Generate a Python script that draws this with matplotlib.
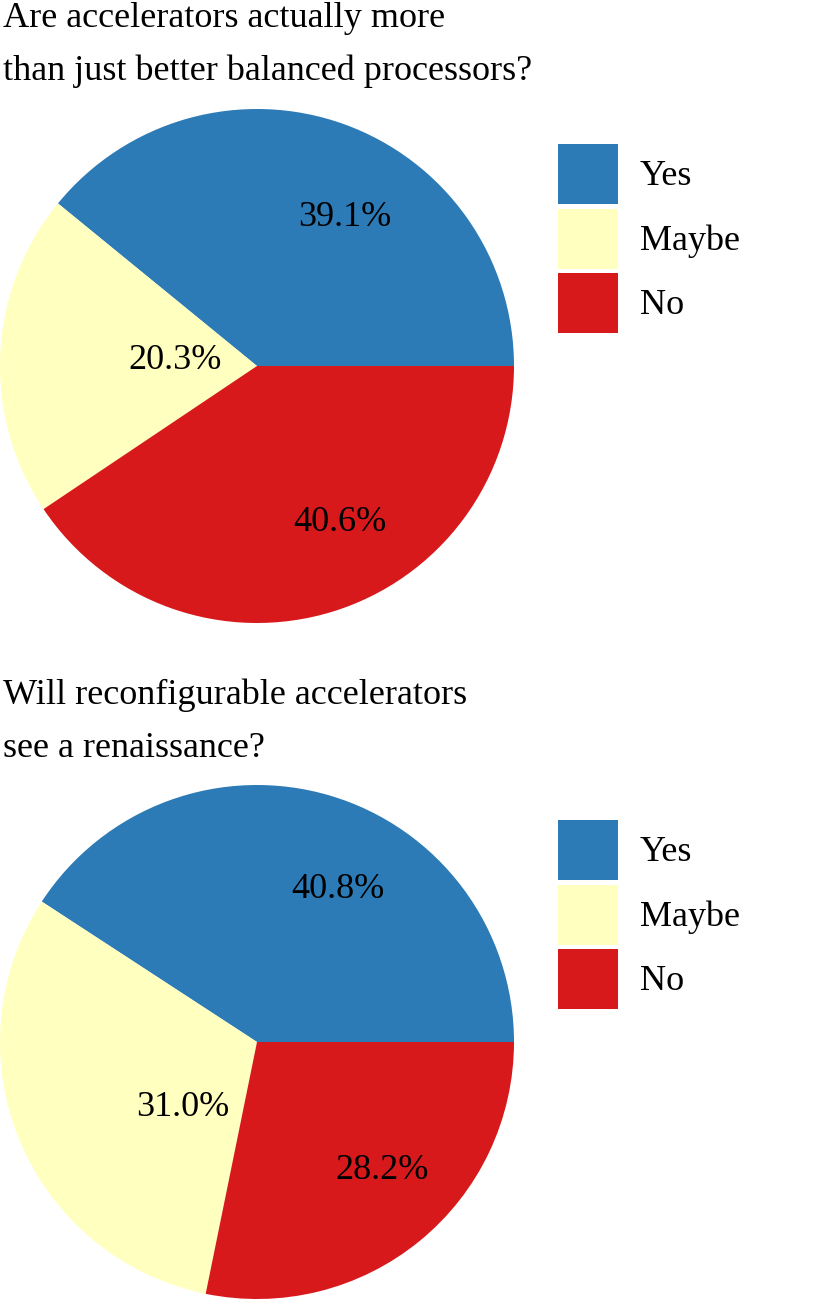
import matplotlib
matplotlib.use("Agg")
import matplotlib.pyplot as plt
import numpy as np

plt.rcParams['font.family'] = ['Liberation Serif', 'DejaVu Serif']

categories = ["Yes", "Maybe", "No"]
colors = ["#2c7bb6", "#ffffbf", "#d7191c"]

titles = ["Are accelerators actually more\nthan just better balanced processors?",
          "Will reconfigurable accelerators\nsee a renaissance?"]
values1 = [39.1, 20.3, 40.6]
values2 = [40.8, 31.0, 28.2]

# label placement (angle in degrees, radius fraction) - layout only
label_pos1 = [(59.4, 0.673), (176.5, 0.32), (-62.0, 0.69)]
label_pos2 = [(62.0, 0.67), (221.7, 0.386), (314.3, 0.696)]

FS = 26
W, H = 830, 1302
fig = plt.figure(figsize=(W / 100, H / 100), dpi=100)

def px_axes(x0, y0, x1, y1):
    return fig.add_axes([x0 / W, 1 - y1 / H, (x1 - x0) / W, (y1 - y0) / H])

panels = [
    (values1, titles[0], label_pos1, 109, 2, 144),
    (values2, titles[1], label_pos2, 785, 679, 820),
]

for vals, title, lpos, top, ttop, legtop in panels:
    ax = px_axes(0, top, 514, top + 514)
    wedges, _ = ax.pie(vals, colors=colors, startangle=0, counterclock=True,
                       radius=1.0, wedgeprops=dict(linewidth=0))
    ax.set_xlim(-1, 1)
    ax.set_ylim(-1, 1)
    ax.set_aspect('equal')
    ax.axis('off')
    for v, (ang, r) in zip(vals, lpos):
        a = np.deg2rad(ang)
        ax.text(r * np.cos(a), r * np.sin(a), f"{v:.1f}%", ha='center', va='center',
                fontsize=FS, color='black')
    fig.text(3 / W, 1 - ttop / H, title, ha='left', va='top', fontsize=FS,
             linespacing=1.78)
    fig.legend(wedges, categories, loc='upper left',
               bbox_to_anchor=(558 / W, 1 - legtop / H), frameon=False,
               fontsize=FS, borderpad=0, borderaxespad=0,
               handlelength=1.66, handleheight=2.18, handletextpad=0.61,
               labelspacing=0.125)

fig.savefig("out.png", dpi=100)
